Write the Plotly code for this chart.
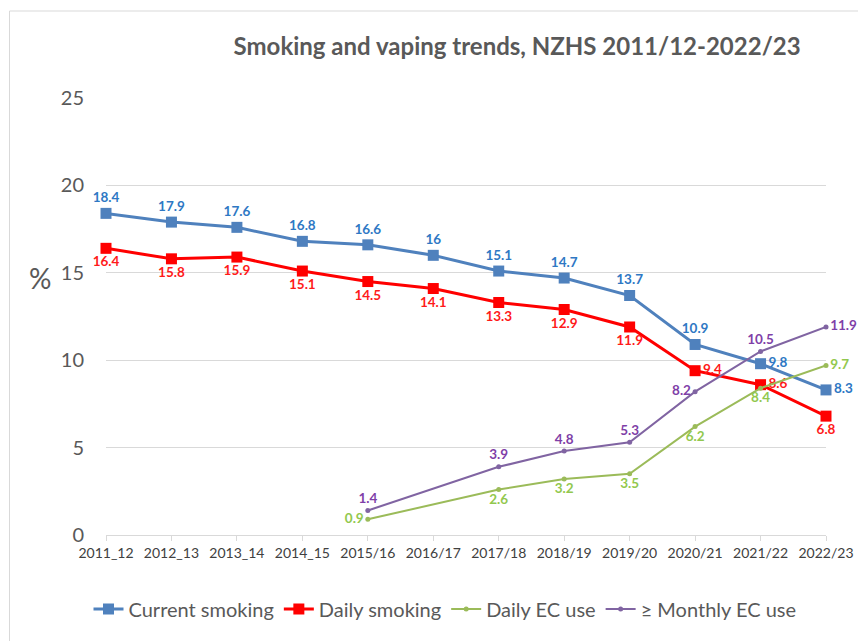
import plotly.graph_objects as go

categories = ["2011_12", "2012_13", "2013_14", "2014_15", "2015/16", "2016/17",
              "2017/18", "2018/19", "2019/20", "2020/21", "2021/22", "2022/23"]
current_smoking = [18.4, 17.9, 17.6, 16.8, 16.6, 16, 15.1, 14.7, 13.7, 10.9, 9.8, 8.3]
daily_smoking = [16.4, 15.8, 15.9, 15.1, 14.5, 14.1, 13.3, 12.9, 11.9, 9.4, 8.6, 6.8]
daily_ec = [None, None, None, None, 0.9, None, 2.6, 3.2, 3.5, 6.2, 8.4, 9.7]
monthly_ec = [None, None, None, None, 1.4, None, 3.9, 4.8, 5.3, 8.2, 10.5, 11.9]

pos_current = ["top center"] * 10 + ["middle right", "middle right"]
pos_daily = ["bottom center"] * 9 + ["middle right", "middle right", "bottom center"]
pos_dec = ["bottom center"] * 4 + ["middle left"] + ["bottom center"] * 6 + ["middle right"]
pos_mec = ["top center"] * 9 + ["middle left", "top center", "middle right"]

def labels(vals):
    return ["" if v is None else f"{v:g}" for v in vals]

FONT = "Lato"
fig = go.Figure()
fig.add_trace(go.Scatter(
    x=categories, y=current_smoking, name="Current smoking", mode="lines+markers+text",
    line=dict(color="#4F81BD", width=3), marker=dict(symbol="square", size=11, color="#4F81BD"),
    text=labels(current_smoking), textposition=pos_current, cliponaxis=False,
    textfont=dict(color="#2E78C4", size=13.5, family=FONT, weight="bold")))
fig.add_trace(go.Scatter(
    x=categories, y=daily_smoking, name="Daily smoking", mode="lines+markers+text",
    line=dict(color="#FF0000", width=3), marker=dict(symbol="square", size=11, color="#FF0000"),
    text=labels(daily_smoking), textposition=pos_daily, cliponaxis=False,
    textfont=dict(color="#FF1A1A", size=13.5, family=FONT, weight="bold")))
fig.add_trace(go.Scatter(
    x=categories, y=daily_ec, name="Daily EC use", mode="lines+markers+text", connectgaps=True,
    line=dict(color="#9BBB59", width=2), marker=dict(symbol="circle", size=5, color="#9BBB59"),
    text=labels(daily_ec), textposition=pos_dec, cliponaxis=False,
    textfont=dict(color="#92C84E", size=13.5, family=FONT, weight="bold")))
fig.add_trace(go.Scatter(
    x=categories, y=monthly_ec, name="≥ Monthly EC use", mode="lines+markers+text", connectgaps=True,
    line=dict(color="#8064A2", width=2), marker=dict(symbol="circle", size=5, color="#8064A2"),
    text=labels(monthly_ec), textposition=pos_mec, cliponaxis=False,
    textfont=dict(color="#7F3FA8", size=13.5, family=FONT, weight="bold")))

fig.update_layout(
    width=858, height=641,
    margin=dict(l=106, r=32, t=98, b=106),
    paper_bgcolor="white", plot_bgcolor="white",
    font=dict(family=FONT, color="#595959"),
    title=dict(text="<b>Smoking and vaping trends, NZHS 2011/12-2022/23</b>",
               font=dict(size=24, color="#595959", family=FONT),
               x=0.571, xref="paper", xanchor="center", y=1 - 47 / 641, yanchor="middle"),
    showlegend=True,
    legend=dict(orientation="h", xref="container", yref="container",
                x=445 / 858, xanchor="center", y=1 - 609 / 641, yanchor="middle",
                font=dict(size=20, color="#595959", family=FONT), itemwidth=30,
                tracegroupgap=0),
    xaxis=dict(type="category", range=[0, 11], showgrid=False, showline=True, automargin=False,
               linecolor="#D9D9D9", linewidth=1, ticks="outside", ticklen=5, tickcolor="#D9D9D9",
               tickfont=dict(size=14, color="#404040", family=FONT), tickangle=0),
    yaxis=dict(range=[0, 25], tickvals=[0, 5, 10, 15, 20, 25], showgrid=True, automargin=False,
               gridcolor="#D9D9D9", gridwidth=1, zeroline=False, showline=False,
               tickfont=dict(size=20, color="#595959", family=FONT), ticklabelstandoff=21),
    annotations=[dict(text="%", xref="paper", yref="paper", x=(40 - 106) / 720,
                      xanchor="center", yanchor="middle",
                      y=(535 - 278) / 437, showarrow=False,
                      font=dict(size=28, color="#595959", family=FONT))],
    shapes=[dict(type="rect", xref="paper", yref="paper",
                 x0=(9.5 - 106) / 720, x1=(900 - 106) / 720,
                 y0=(535 - 700) / 437, y1=1 + (98 - 11) / 437,
                 line=dict(color="#D9D9D9", width=1), layer="below")],
)

fig.write_html("out.html")
